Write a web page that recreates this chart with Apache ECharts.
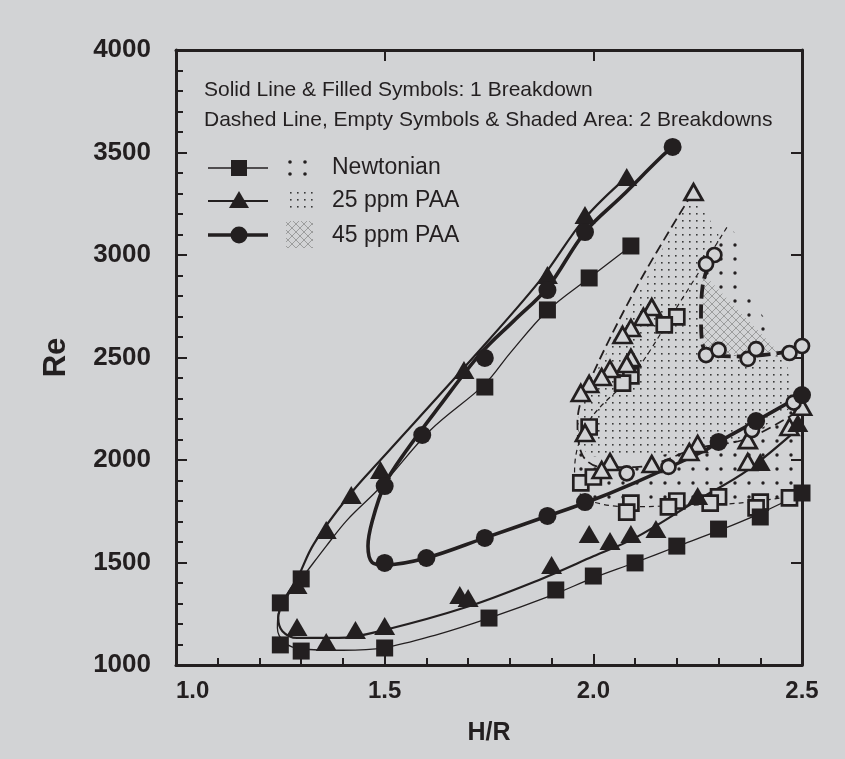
<!DOCTYPE html>
<html>
<head>
<meta charset="utf-8">
<script src="https://cdn.jsdelivr.net/npm/echarts@6/dist/echarts.min.js"></script>
<style>
  html, body { margin: 0; padding: 0; background: #d2d3d5; }
  #main { width: 845px; height: 759px; }
</style>
</head>
<body>
<div id="main"></div>
<script>
const BG = '#d2d3d5';
const INK = '#231f20';
const FONT = '"Liberation Sans", Arial, sans-serif';

// symbols, 1 breakdown (filled)
const newtonian1Pts = [[2.09,3044],[1.99,2888],[1.89,2732],[1.74,2356],[1.30,1420],[1.25,1303],[1.25,1098],[1.30,1068],[1.50,1083],[1.75,1229],[1.91,1366],[2.00,1434],[2.10,1498],[2.20,1580],[2.30,1663],[2.40,1722],[2.50,1839]];
const ppm25_1Pts = [[2.08,3380],[1.98,3195],[1.89,2902],[1.69,2439],[1.49,1951],[1.42,1829],[1.36,1659],[1.29,1390],[1.29,1185],[1.36,1112],[1.43,1171],[1.50,1190],[1.68,1341],[1.70,1327],[1.90,1488],[1.99,1639],[2.04,1605],[2.09,1639],[2.15,1663],[2.25,1824],[2.40,1990],[2.49,2180]];
const ppm45_1Pts = [[2.19,3527],[1.98,3112],[1.89,2829],[1.74,2498],[1.59,2122],[1.50,1873],[1.50,1498],[1.60,1522],[1.74,1620],[1.89,1727],[1.98,1795],[2.30,2088],[2.39,2190],[2.50,2317]];

// symbols, 2 breakdowns (empty)
const newtonian2Pts = [[2.20,2698],[2.17,2659],[2.09,2410],[2.07,2375],[1.99,2161],[1.97,1888],[2.00,1917],[2.09,1790],[2.08,1746],[2.20,1800],[2.18,1771],[2.30,1820],[2.28,1790],[2.40,1795],[2.39,1766],[2.47,1815]];
const ppm25_2Pts = [[2.24,3307],[2.14,2746],[2.12,2698],[2.09,2644],[2.07,2610],[2.09,2498],[2.08,2468],[2.04,2444],[2.02,2405],[1.99,2371],[1.97,2327],[1.98,2132],[2.04,1990],[2.02,1951],[2.14,1980],[2.25,2078],[2.23,2039],[2.37,2097],[2.37,1990],[2.47,2161],[2.50,2260]];
const ppm45_2Pts = [[2.29,3000],[2.27,2956],[2.27,2512],[2.30,2537],[2.37,2493],[2.39,2541],[2.47,2522],[2.50,2556],[2.08,1935],[2.18,1966],[2.38,2146],[2.48,2280]];

// fitted curves
const newtonian1Curve = [[2.09,3044],[1.99,2888],[1.89,2728],[1.80,2520],[1.74,2370],[1.61,2146],[1.49,1868],[1.41,1707],[1.36,1580],[1.30,1420],[1.265,1330],[1.245,1250],[1.243,1180],[1.26,1110],[1.30,1078],[1.40,1072],[1.50,1085],[1.62,1145],[1.75,1229],[1.90,1340],[2.00,1425],[2.10,1500],[2.20,1578],[2.30,1655],[2.40,1740],[2.50,1839]];
const ppm25_1Curve = [[2.08,3380],[1.98,3180],[1.87,2870],[1.69,2450],[1.49,2000],[1.42,1840],[1.33,1590],[1.29,1420],[1.26,1320],[1.245,1230],[1.255,1165],[1.29,1132],[1.39,1132],[1.50,1171],[1.70,1285],[1.87,1415],[2.00,1530],[2.10,1620],[2.25,1805],[2.37,1951],[2.50,2170]];
const ppm45_1Curve = [[2.19,3527],[2.16,3473],[2.07,3290],[1.98,3112],[1.89,2840],[1.81,2680],[1.73,2520],[1.63,2259],[1.55,2040],[1.50,1880],[1.47,1700],[1.46,1580],[1.47,1500],[1.50,1488],[1.60,1522],[1.74,1620],[1.89,1727],[1.98,1790],[2.10,1890],[2.26,2039],[2.30,2088],[2.39,2190],[2.50,2317]];
const newtonian2Curve = [[2.32,3135],[2.20,2745],[2.10,2430],[2.00,2220],[1.965,2080],[1.955,1940],[1.97,1830],[2.02,1785],[2.10,1772],[2.20,1778],[2.35,1790],[2.50,1830]];
const ppm25_2Curve = [[2.237,3300],[2.10,2830],[1.975,2310],[1.962,2180],[1.975,2020],[2.02,1965],[2.10,1965],[2.25,2058],[2.37,2105],[2.50,2250]];
const ppm45_2Curve = [[2.275,2950],[2.262,2850],[2.258,2700],[2.262,2560],[2.28,2515],[2.35,2505],[2.42,2515],[2.50,2540]];

// shaded areas, 2 breakdowns
const newtonianArea = [[2.324,3140],[2.365,3050],[2.365,2830],[2.41,2690],[2.46,2400],[2.49,2100],[2.50,1830],[2.35,1790],[2.20,1778],[2.10,1772],[2.02,1785],[1.97,1830],[1.955,1940],[1.965,2080],[2.00,2220],[2.10,2430],[2.20,2745]];
const ppm25Area = [[2.237,3300],[2.265,3220],[2.30,3100],[2.30,3000],[2.27,2950],[2.262,2850],[2.262,2540],[2.30,2510],[2.46,2505],[2.47,2400],[2.47,2250],[2.40,2150],[2.37,2105],[2.25,2060],[2.14,2015],[2.04,2010],[1.99,2020],[1.965,2080],[1.962,2180],[1.975,2310]];
const ppm45Area = [[2.262,2912],[2.262,2512],[2.444,2527]];

const xTicks = [1.0, 1.5, 2.0, 2.5];
const yTicks = [1000, 1500, 2000, 2500, 3000, 3500, 4000];

function makePattern(size, draw) {
  const c = document.createElement('canvas');
  c.width = size; c.height = size;
  draw(c.getContext('2d'), size);
  return { image: c, repeat: 'repeat' };
}
const finePat = makePattern(7, (ctx) => {
  ctx.fillStyle = BG; ctx.fillRect(0, 0, 7, 7);
  ctx.fillStyle = '#3a3a3a'; ctx.fillRect(3, 3, 1.6, 1.6);
});
const coarsePat = makePattern(14, (ctx) => {
  ctx.fillStyle = INK; ctx.beginPath(); ctx.arc(7, 7, 1.7, 0, Math.PI * 2); ctx.fill();
});
const hatchPat = makePattern(8, (ctx) => {
  ctx.fillStyle = BG; ctx.fillRect(0, 0, 8, 8);
  ctx.strokeStyle = '#858585'; ctx.lineWidth = 0.7;
  ctx.beginPath(); ctx.moveTo(0, 0); ctx.lineTo(8, 8); ctx.moveTo(8, 0); ctx.lineTo(0, 8); ctx.stroke();
});

function area(points, fill) {
  return {
    type: 'custom', coordinateSystem: 'cartesian2d', silent: true, z: 1,
    data: [points[0]],
    renderItem: (params, api) => ({
      type: 'polygon',
      shape: { points: points.map(p => api.coord(p)) },
      style: { fill: fill, stroke: null }
    })
  };
}
function curve(points, width, dash) {
  return {
    type: 'line', data: points, smooth: 0.35, symbol: 'none', silent: true, z: 2,
    lineStyle: { color: INK, width: width, type: dash || 'solid' }
  };
}
function marks(points, symbol, size, open) {
  return {
    type: 'scatter', data: points, symbol: symbol, symbolSize: size, silent: true, z: 3,
    itemStyle: open ? { color: BG, borderColor: INK, borderWidth: 2.7, opacity: 1 } : { color: INK, opacity: 1 }
  };
}

const chart = echarts.init(document.getElementById('main'));

const labelStyle = { color: INK, fontFamily: FONT, fontWeight: 'bold' };
const lineSt = { color: INK, width: 3 };
const tickSt = { color: INK, width: 2 };

const options = {
  backgroundColor: BG,
  animation: false,
  grid: { left: 176, right: 43, top: 50, bottom: 94 },
  xAxis: [
    {
      type: 'value', min: 1.0, max: 2.5, interval: 0.5, position: 'bottom',
      axisLine: { show: true, onZero: false, lineStyle: lineSt },
      axisTick: { inside: true, length: 11, lineStyle: tickSt },
      minorTick: { show: true, splitNumber: 5, length: 7, lineStyle: tickSt },
      splitLine: { show: false },
      axisLabel: Object.assign({ fontSize: 24, margin: 14, alignMinLabel: 'left', formatter: (v) => xTicks.includes(v) ? v.toFixed(1) : '' }, labelStyle),
      name: 'H/R', nameLocation: 'middle', nameGap: 56,
      nameTextStyle: Object.assign({ fontSize: 25 }, labelStyle)
    },
    {
      type: 'value', min: 1.0, max: 2.5, interval: 0.5, position: 'top',
      axisLine: { show: true, onZero: false, lineStyle: lineSt },
      axisTick: { inside: true, length: 11, lineStyle: tickSt },
      axisLabel: { show: false }, splitLine: { show: false }
    }
  ],
  yAxis: [
    {
      type: 'value', min: 1000, max: 4000, interval: 500, position: 'left',
      axisLine: { show: true, onZero: false, lineStyle: lineSt },
      axisTick: { inside: true, length: 11, lineStyle: tickSt },
      minorTick: { show: true, splitNumber: 5, length: 7, lineStyle: tickSt },
      splitLine: { show: false },
      axisLabel: Object.assign({ fontSize: 26, margin: 25, formatter: (v) => yTicks.includes(v) ? String(v) : '' }, labelStyle),
      name: 'Re', nameLocation: 'middle', nameGap: 104, nameRotate: 90,
      nameTextStyle: Object.assign({ fontSize: 31 }, labelStyle)
    },
    {
      type: 'value', min: 1000, max: 4000, interval: 500, position: 'right',
      axisLine: { show: true, onZero: false, lineStyle: lineSt },
      axisTick: { inside: true, length: 11, lineStyle: tickSt },
      axisLabel: { show: false }, splitLine: { show: false }
    }
  ],
  series: [
    area(newtonianArea, coarsePat),
    area(ppm25Area, finePat),
    area(ppm45Area, hatchPat),
    curve(newtonian2Curve, 1.2, [5, 4]),
    curve(ppm25_2Curve, 1.8, [10, 5]),
    curve(ppm45_2Curve, 3.8, [14, 6]),
    curve(newtonian1Curve, 1.3),
    curve(ppm25_1Curve, 2.2),
    curve(ppm45_1Curve, 3.6),
    marks(newtonian2Pts, 'rect', 15, true),
    marks(ppm25_2Pts, 'triangle', [18, 16], true),
    marks(ppm45_2Pts, 'circle', 14, true),
    marks(newtonian1Pts, 'rect', 17),
    marks(ppm25_1Pts, 'triangle', [21, 18]),
    marks(ppm45_1Pts, 'circle', 18)
  ],
  graphic: [
    { type: 'text', x: 204, y: 90, style: { text: 'Solid Line & Filled Symbols: 1 Breakdown', font: '21px ' + FONT, fill: INK, verticalAlign: 'middle' } },
    { type: 'text', x: 204, y: 120, style: { text: 'Dashed Line, Empty Symbols & Shaded Area: 2 Breakdowns', font: '21px ' + FONT, fill: INK, verticalAlign: 'middle' } },
    // legend row 1
    { type: 'line', shape: { x1: 208, y1: 168, x2: 268, y2: 168 }, style: { stroke: INK, lineWidth: 1.5 } },
    { type: 'rect', shape: { x: 231, y: 160, width: 16, height: 16 }, style: { fill: INK } },
    { type: 'circle', shape: { cx: 290, cy: 162, r: 1.8 }, style: { fill: INK } },
    { type: 'circle', shape: { cx: 305, cy: 162, r: 1.8 }, style: { fill: INK } },
    { type: 'circle', shape: { cx: 290, cy: 174, r: 1.8 }, style: { fill: INK } },
    { type: 'circle', shape: { cx: 305, cy: 174, r: 1.8 }, style: { fill: INK } },
    { type: 'text', x: 332, y: 168, style: { text: 'Newtonian', font: '23px ' + FONT, fill: INK, verticalAlign: 'middle' } },
    // legend row 2
    { type: 'line', shape: { x1: 208, y1: 201, x2: 268, y2: 201 }, style: { stroke: INK, lineWidth: 2.2 } },
    { type: 'polygon', shape: { points: [[239, 191], [249, 208], [229, 208]] }, style: { fill: INK } },
    { type: 'rect', shape: { x: 286, y: 187, width: 27, height: 26 }, style: { fill: finePat } },
    { type: 'text', x: 332, y: 201, style: { text: '25 ppm PAA', font: '23px ' + FONT, fill: INK, verticalAlign: 'middle' } },
    // legend row 3
    { type: 'line', shape: { x1: 208, y1: 235, x2: 268, y2: 235 }, style: { stroke: INK, lineWidth: 3.6 } },
    { type: 'circle', shape: { cx: 239, cy: 235, r: 8.5 }, style: { fill: INK } },
    { type: 'rect', shape: { x: 286, y: 221, width: 27, height: 27 }, style: { fill: hatchPat } },
    { type: 'text', x: 332, y: 236, style: { text: '45 ppm PAA', font: '23px ' + FONT, fill: INK, verticalAlign: 'middle' } }
  ]
};

chart.setOption(options);
</script>
</body>
</html>
